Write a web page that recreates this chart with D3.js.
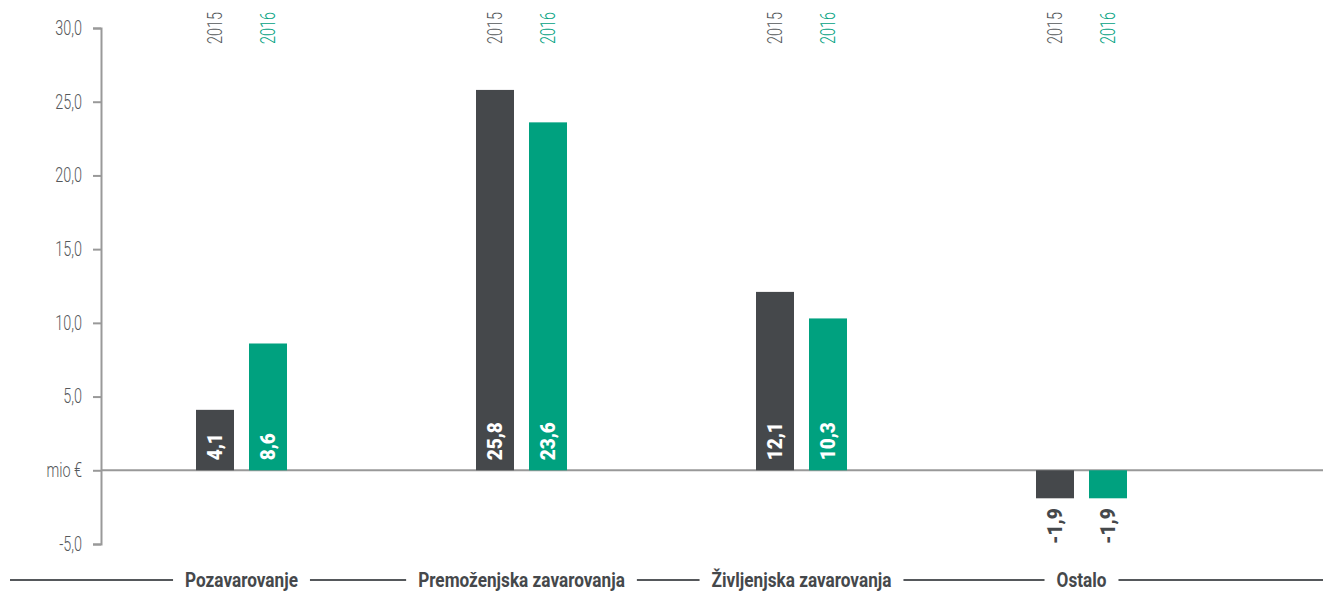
<!DOCTYPE html>
<html>
<head>
<meta charset="utf-8">
<script src="https://cdn.jsdelivr.net/npm/d3@7"></script>
<style>
  body { margin: 0; background: #fff; }
  svg text { font-family: Roboto, "Open Sans", sans-serif; }
</style>
</head>
<body>
<div class="chart"></div>
<script>
const categories = ["Pozavarovanje", "Premoženjska zavarovanja", "Življenjska zavarovanja", "Ostalo"];
const years = ["2015", "2016"];
const values2015 = [4.1, 25.8, 12.1, -1.9];
const values2016 = [8.6, 23.6, 10.3, -1.9];
const yTicks = [30, 25, 20, 15, 10, 5, 0, -5];

const width = 1323;
const height = 592;
const dark = "#45484b";
const green = "#00a17f";
const axisGray = "#999999";
const narrow = 0.72; // squeeze for the light condensed look
const boldNarrow = 0.86;

const svg = d3.select(".chart")
  .append("svg")
  .attr("width", width)
  .attr("height", height);

const yScale = d3.scaleLinear().domain([-5, 30]).range([544, 28]);
const xScale = d3.scaleBand().domain(categories).range([101.5, 1221.5]).padding(0);
const barWidth = 38;
const barOffset = { "2015": -45.5, "2016": 7.5 };
const colors = { "2015": dark, "2016": green };
const yearColors = { "2015": "#55585b", "2016": green };

const fmt = function (v) {
  return d3.format(".1f")(v).replace(".", ",").replace("−", "-");
};

// y axis
const yAxis = d3.axisLeft(yScale)
  .tickValues(yTicks)
  .tickSize(8)
  .tickPadding(11)
  .tickFormat(function (d) { return d === 0 ? "mio €" : fmt(d); });

const gy = svg.append("g")
  .attr("transform", "translate(101,0)")
  .call(yAxis);
gy.select(".domain").attr("stroke", axisGray).attr("stroke-width", 2);
gy.selectAll(".tick line").attr("stroke", axisGray).attr("stroke-width", 2);
gy.selectAll(".tick text")
  .attr("x", -19 / narrow)
  .attr("transform", "scale(" + narrow + ",1)")
  .attr("fill", "#55585b")
  .style("font-size", "20px")
  .style("font-weight", 300)
  .style("font-family", null);

// zero line
svg.append("line")
  .attr("x1", 101)
  .attr("x2", width)
  .attr("y1", yScale(0))
  .attr("y2", yScale(0))
  .attr("stroke", axisGray)
  .attr("stroke-width", 2);

// bars
const rows = [];
categories.forEach(function (c, i) {
  rows.push({ cat: c, year: "2015", value: values2015[i] });
  rows.push({ cat: c, year: "2016", value: values2016[i] });
});

const cx = function (d) {
  return xScale(d.cat) + xScale.bandwidth() / 2 + barOffset[d.year];
};

svg.selectAll("rect.bar")
  .data(rows)
  .enter()
  .append("rect")
  .attr("class", "bar")
  .attr("x", function (d) { return cx(d); })
  .attr("width", barWidth)
  .attr("y", function (d) { return yScale(Math.max(0, d.value)); })
  .attr("height", function (d) { return Math.abs(yScale(d.value) - yScale(0)); })
  .attr("fill", function (d) { return colors[d.year]; });

// value labels
svg.selectAll("text.val")
  .data(rows)
  .enter()
  .append("text")
  .attr("class", "val")
  .attr("transform", function (d) {
    const y = d.value >= 0 ? yScale(0) - 10 : yScale(d.value) + 10;
    return "translate(" + (cx(d) + barWidth / 2) + "," + y + ") rotate(-90) scale(0.95,1)";
  })
  .attr("text-anchor", function (d) { return d.value >= 0 ? "start" : "end"; })
  .attr("dy", "0.36em")
  .attr("fill", function (d) { return d.value >= 0 ? "#fff" : dark; })
  .style("font-size", "20px")
  .style("font-weight", 900)
  .text(function (d) { return fmt(d.value); });

// year labels on top
svg.selectAll("text.year")
  .data(rows)
  .enter()
  .append("text")
  .attr("class", "year")
  .attr("transform", function (d) {
    return "translate(" + (cx(d) + barWidth / 2) + ",44) rotate(-90) scale(" + narrow + ",1)";
  })
  .attr("text-anchor", "start")
  .attr("dy", "0.36em")
  .attr("fill", function (d) { return yearColors[d.year]; })
  .style("font-size", "20px")
  .style("font-weight", 300)
  .text(function (d) { return d.year; });

// category labels with separator line
const catLabels = svg.selectAll("text.cat")
  .data(categories)
  .enter()
  .append("text")
  .attr("class", "cat")
  .attr("transform", function (d) {
    return "translate(" + (xScale(d) + xScale.bandwidth() / 2) + ",587) scale(" + boldNarrow + ",1)";
  })
  .attr("text-anchor", "middle")
  .attr("fill", dark)
  .style("font-size", "20px")
  .style("font-weight", "bold")
  .text(function (d) { return d; });

const svgBox = svg.node().getBoundingClientRect();
const gaps = [];
catLabels.each(function () {
  const b = this.getBoundingClientRect();
  gaps.push([b.left - svgBox.left - 12, b.right - svgBox.left + 12]);
});
let start = 10;
gaps.forEach(function (g) {
  svg.append("line")
    .attr("x1", start).attr("x2", g[0])
    .attr("y1", 580).attr("y2", 580)
    .attr("stroke", "#55585b").attr("stroke-width", 2);
  start = g[1];
});
svg.append("line")
  .attr("x1", start).attr("x2", width)
  .attr("y1", 580).attr("y2", 580)
  .attr("stroke", "#55585b").attr("stroke-width", 2);
</script>
</body>
</html>
